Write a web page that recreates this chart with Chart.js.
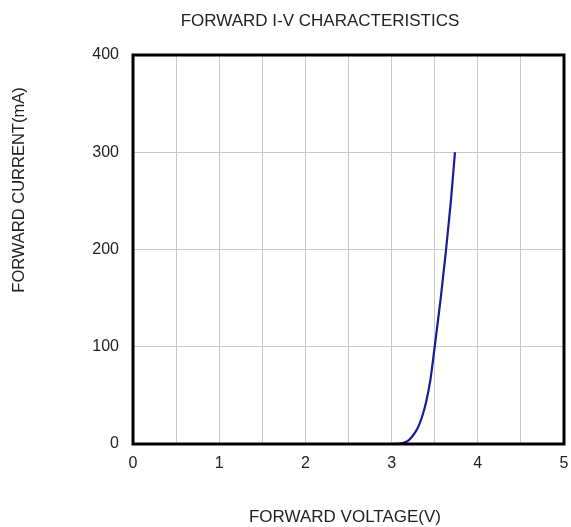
<!DOCTYPE html>
<html>
<head>
<meta charset="utf-8">
<script src="https://cdn.jsdelivr.net/npm/chart.js@4"></script>
<style>
  html, body { margin: 0; padding: 0; background: #fff; }
  #wrap { width: 571px; height: 527px; }
</style>
</head>
<body>
<div id="wrap"><canvas id="ivChart" width="571" height="527"></canvas></div>
<script>
// Forward I-V curve
var voltage = [0, 1.0, 2.0, 3.0, 3.1, 3.15, 3.2, 3.25, 3.3, 3.35, 3.4, 3.45, 3.5, 3.57, 3.632, 3.688, 3.735];
var current = [0, 0, 0, 0, 0.5, 1.5, 4, 9, 16, 27, 43, 66, 100, 150, 200, 250, 300];

var xTicks = [0, 1, 2, 3, 4, 5];
var yTicks = [0, 100, 200, 300, 400];

var chartTitle = 'FORWARD I-V CHARACTERISTICS';
var xTitle = 'FORWARD VOLTAGE(V)';
var yTitle = 'FORWARD CURRENT(mA)';

var FONT = '"Liberation Sans", Arial, sans-serif';
var TEXT_COLOR = '#222';

var points = voltage.map(function(v, i) {
  return { x: v, y: current[i] };
});

// frame + titles drawn around the chart area
var framePlugin = {
  id: 'frame',
  afterDraw: function(chart) {
    var ctx = chart.ctx;
    var a = chart.chartArea;
    ctx.save();
    ctx.strokeStyle = '#000';
    ctx.lineWidth = 3;
    ctx.strokeRect(a.left, a.top, a.right - a.left, a.bottom - a.top);

    ctx.fillStyle = TEXT_COLOR;
    ctx.textAlign = 'center';
    ctx.textBaseline = 'middle';
    ctx.font = '17px ' + FONT;
    ctx.fillText(chartTitle, 320, 21);
    ctx.fillText(xTitle, 345, 517);

    ctx.font = '16.5px ' + FONT;
    ctx.translate(19, 190);
    ctx.rotate(-Math.PI / 2);
    ctx.fillText(yTitle, 0, 0);
    ctx.restore();
  }
};

var ctx = document.getElementById('ivChart').getContext('2d');
var ivChart = new Chart(ctx, {
  type: 'scatter',
  data: {
    datasets: [{
      data: points,
      showLine: true,
      borderColor: '#1a1a9a',
      borderWidth: 2.2,
      pointRadius: 0,
      cubicInterpolationMode: 'monotone',
      fill: false
    }]
  },
  options: {
    responsive: false,
    animation: false,
    layout: {
      padding: { top: 55, right: 7, left: 0, bottom: 0 }
    },
    plugins: {
      legend: { display: false },
      tooltip: { enabled: false }
    },
    scales: {
      x: {
        type: 'linear',
        min: 0,
        max: 5,
        afterFit: function(scale) {
          scale.height = 83;
          scale.paddingLeft = 0;
          scale.paddingRight = 0;
        },
        afterBuildTicks: function(scale) {
          var t = [];
          for (var i = 0; i <= 10; i++) t.push({ value: i * 0.5 });
          scale.ticks = t;
        },
        grid: {
          color: '#c8c8c8',
          lineWidth: 1,
          drawTicks: false
        },
        border: { display: false },
        ticks: {
          padding: 10,
          maxRotation: 0,
          autoSkip: false,
          color: TEXT_COLOR,
          font: { family: FONT, size: 16 },
          callback: function(value) {
            return xTicks.indexOf(value) >= 0 ? String(value) : '';
          }
        }
      },
      y: {
        type: 'linear',
        min: 0,
        max: 400,
        afterFit: function(scale) {
          scale.width = 133;
          scale.paddingTop = 0;
          scale.paddingBottom = 0;
        },
        afterBuildTicks: function(scale) {
          scale.ticks = yTicks.map(function(v) { return { value: v }; });
        },
        grid: {
          color: '#c8c8c8',
          lineWidth: 1,
          drawTicks: false
        },
        border: { display: false },
        ticks: {
          padding: 14,
          color: TEXT_COLOR,
          font: { family: FONT, size: 16 }
        }
      }
    }
  },
  plugins: [framePlugin]
});
</script>
</body>
</html>
